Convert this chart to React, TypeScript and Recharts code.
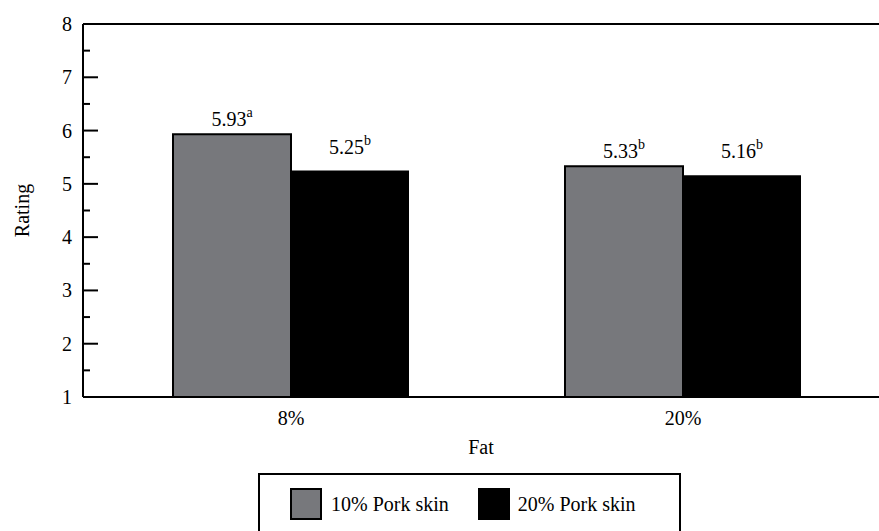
import React from 'react';
import { BarChart, Bar, XAxis, YAxis, Legend, LabelList, ReferenceLine, Label } from 'recharts';

// data
const fatLevels = ['8%', '20%'];
const skin10 = [5.93, 5.33];
const skin20 = [5.25, 5.16];
const skin10Letters = ['a', 'b'];
const skin20Letters = ['b', 'b'];
const yTicks = [1, 1.5, 2, 2.5, 3, 3.5, 4, 4.5, 5, 5.5, 6, 6.5, 7, 7.5, 8];

const data = fatLevels.map((fat, i) => ({
  fat,
  skin10: skin10[i],
  skin20: skin20[i],
}));

const FONT = 'Liberation Serif, DejaVu Serif, Times New Roman, serif';
const GRAY = '#77787C';

const YTick = (props: any) => {
  const { x, y, payload } = props;
  const major = Number.isInteger(payload.value);
  return (
    <g>
      <line x1={x} x2={x + (major ? 15 : 7)} y1={y} y2={y} stroke="#000" strokeWidth={2} />
      {major && (
        <text x={x - 11} y={y} dy="0.35em" textAnchor="end" style={{ fontFamily: FONT, fontSize: 20 }} fill="#000">
          {payload.value}
        </text>
      )}
    </g>
  );
};

// value label with the significance letter as a superscript
const makeLabel = (letters: string[], lift: number) => (props: any) => {
  const { x, y, width, value, index } = props;
  return (
    <text x={x + width / 2} y={y - lift} textAnchor="middle" style={{ fontFamily: FONT, fontSize: 20 }} fill="#000">
      {value.toFixed(2)}
      <tspan style={{ fontSize: 14 }} dy={-9}>{letters[index]}</tspan>
    </text>
  );
};

const LegendBox = () => (
  <div
    style={{
      boxSizing: 'border-box',
      width: 423,
      height: 62,
      border: '2px solid #000',
      display: 'flex',
      alignItems: 'center',
      paddingLeft: 30,
      fontFamily: FONT,
      fontSize: 20,
      color: '#000',
      background: '#fff',
    }}
  >
    <span style={{ boxSizing: 'border-box', width: 32, height: 32, background: GRAY, border: '2px solid #000' }} />
    <span style={{ marginLeft: 9 }}>10% Pork skin</span>
    <span style={{ width: 32, height: 32, background: '#000', marginLeft: 29 }} />
    <span style={{ marginLeft: 8 }}>20% Pork skin</span>
  </div>
);

export default function App() {
  return (
    <div style={{ position: 'absolute', left: 0, top: 0, width: 879, height: 531, overflow: 'hidden', background: '#fff', fontFamily: FONT }}>
      <BarChart width={879} height={531} data={data} margin={{ top: 24, right: 0, left: 0, bottom: 0 }} barGap={0} barSize={118}>
        <XAxis
          dataKey="fat"
          height={72}
          padding={{ left: 12, right: 0 }}
          axisLine={{ stroke: '#000', strokeWidth: 2 }}
          tickLine={false}
          tickSize={0}
          tickMargin={14}
          tick={{ fill: '#000', style: { fontSize: 20, fontFamily: FONT } }}
        >
          <Label value="Fat" position="insideBottom" offset={15} fill="#000" style={{ fontSize: 20, fontFamily: FONT }} />
        </XAxis>
        <YAxis
          width={83}
          domain={[1, 8]}
          ticks={yTicks}
          interval={0}
          axisLine={{ stroke: '#000', strokeWidth: 2 }}
          tickLine={false}
          tickSize={0}
          tickMargin={0}
          tick={<YTick />}
        >
          <Label
            content={(p: any) => {
              const vb = p.viewBox;
              const cx = vb.x + 22;
              const cy = vb.y + vb.height / 2;
              return (
                <text
                  x={cx}
                  y={cy}
                  dy="0.35em"
                  transform={`rotate(-90 ${cx} ${cy})`}
                  textAnchor="middle"
                  style={{ fontSize: 20, fontFamily: FONT }}
                  fill="#000"
                >
                  Rating
                </text>
              );
            }}
          />
        </YAxis>
        <ReferenceLine y={8} stroke="#000" strokeWidth={2} />
        <Legend verticalAlign="bottom" wrapperStyle={{ left: 258, top: 473, width: 423 }} content={<LegendBox />} />
        <Bar dataKey="skin10" fill={GRAY} stroke="#000" strokeWidth={2} isAnimationActive={false}>
          <LabelList dataKey="skin10" content={makeLabel(skin10Letters, 8)} />
        </Bar>
        <Bar dataKey="skin20" fill="#000" isAnimationActive={false}>
          <LabelList dataKey="skin20" content={makeLabel(skin20Letters, 17)} />
        </Bar>
      </BarChart>
    </div>
  );
}
